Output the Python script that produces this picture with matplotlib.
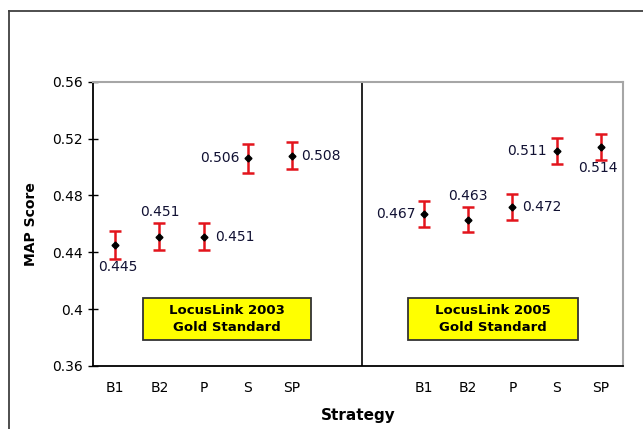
import matplotlib
matplotlib.use("Agg")
import matplotlib.pyplot as plt
import matplotlib.lines as mlines
import matplotlib.patches as mpatches
import numpy as np

# data
strategies = ["B1", "B2", "P", "S", "SP"]
map_2003 = [0.445, 0.451, 0.451, 0.506, 0.508]
err_2003 = [0.0097, 0.0094, 0.0094, 0.0099, 0.0094]
map_2005 = [0.467, 0.463, 0.472, 0.511, 0.514]
err_2005 = [0.0094, 0.0089, 0.0091, 0.0091, 0.0092]
panel_titles = ["LocusLink 2003\nGold Standard", "LocusLink 2005\nGold Standard"]
y_ticks = [0.36, 0.4, 0.44, 0.48, 0.52, 0.56]

# label placement (offset in points, ha, va) for each point
offsets_2003 = [((2, -16), "center", "center"), ((0, 18), "center", "center"),
                ((8, 0), "left", "center"), ((-6, 0), "right", "center"),
                ((7, 0), "left", "center")]
offsets_2005 = [((-6, 0), "right", "center"), ((0, 17), "center", "center"),
                ((7, 0), "left", "center"), ((-7, 0), "right", "center"),
                ((-2, -15), "center", "center")]

x_left = np.arange(len(strategies))
x_right = np.arange(len(strategies)) + 7

fig = plt.figure(figsize=(6.43, 4.29), dpi=100)
ax = fig.add_axes([0.1451, 0.1469, 0.8233, 0.6627])

for xs, vals, errs, offs in [(x_left, map_2003, err_2003, offsets_2003),
                             (x_right, map_2005, err_2005, offsets_2005)]:
    ax.errorbar(xs, vals, yerr=errs, fmt="none", ecolor="#e3141c", elinewidth=1.8,
                capsize=4.5, capthick=1.8, zorder=3)
    ax.plot(xs, vals, linestyle="none", marker="D", markersize=3.5, color="black", zorder=4)
    for x, v, (off, ha, va) in zip(xs, vals, offs):
        ax.annotate(f"{v:.3f}", (x, v), xytext=off, textcoords="offset points",
                    ha=ha, va=va, fontsize=10, color="#111133")

ax.axvline(5.58, color="black", lw=1.2, zorder=2)

# yellow legend boxes (axes fraction)
box_x = [(0.093, 0.411), (0.594, 0.915)]
box_y = (0.0897, 0.240)
for (x0, x1), title in zip(box_x, panel_titles):
    ax.add_patch(mpatches.Rectangle((x0, box_y[0]), x1 - x0, box_y[1] - box_y[0],
                                    transform=ax.transAxes, facecolor="#ffff00",
                                    edgecolor="#333333", lw=1.3, zorder=2))
    ax.text((x0 + x1) / 2, (box_y[0] + box_y[1]) / 2, title, transform=ax.transAxes,
            ha="center", va="center", fontsize=9.5, fontweight="bold",
            linespacing=1.35, zorder=3)

ax.set_xlim(-0.5, 11.5)
ax.set_ylim(0.36, 0.56)
ax.set_yticks(y_ticks)
ax.set_yticklabels([f"{t:g}" for t in y_ticks])
ax.set_xticks(np.concatenate([x_left, x_right]))
ax.set_xticklabels(strategies + strategies)
ax.tick_params(axis="y", direction="inout", length=7, width=1, labelsize=10, pad=4)
ax.tick_params(axis="x", length=0, labelsize=10, pad=11)

ax.spines["left"].set_color("black")
ax.spines["bottom"].set_color("black")
ax.spines["left"].set_linewidth(1.3)
ax.spines["bottom"].set_linewidth(1.3)
ax.spines["top"].set_color("#a6a6a6")
ax.spines["right"].set_color("#a6a6a6")
ax.spines["top"].set_linewidth(1.5)
ax.spines["right"].set_linewidth(1.5)

ax.set_ylabel("MAP Score", fontsize=10, fontweight="bold", labelpad=10)
ax.set_xlabel("Strategy", fontsize=11, fontweight="bold", labelpad=9)

# outer frame (cut off at right and bottom)
fig.add_artist(mlines.Line2D([9.3 / 643, 9.3 / 643], [0, 1 - 11 / 429],
                             transform=fig.transFigure, color="#404040", lw=1.3))
fig.add_artist(mlines.Line2D([9.3 / 643, 1], [1 - 11 / 429, 1 - 11 / 429],
                             transform=fig.transFigure, color="#404040", lw=1.3))

plt.savefig("out.png", dpi=100)
